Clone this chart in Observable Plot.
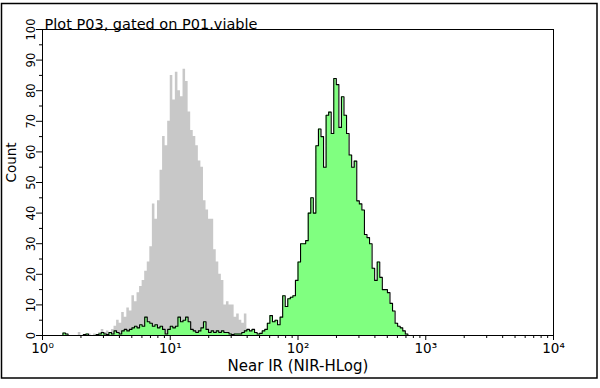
<!DOCTYPE html>
<html>
<head>
<meta charset="utf-8">
<script src="https://cdn.jsdelivr.net/npm/d3@7"></script>
<script src="https://cdn.jsdelivr.net/npm/@observablehq/plot@0.6"></script>
<style>
  html, body { margin: 0; padding: 0; background: #fff; }
  #chart { width: 600px; height: 388px; }
</style>
</head>
<body>
<div id="chart"></div>
<script>
// ---- data ----
const title = "Plot P03, gated on P01.viable";
const xLabel = "Near IR (NIR-HLog)";
const yLabel = "Count";
const binWidth = 0.02; // decades per channel
// grey (unstained) histogram, counts per channel starting at channel greyStart
const greyStart = 13;
const greyCounts = [0,1,0,0,0,0.5,0,0.5,0,1,2,1,1.5,1,2,3,5,4,7.5,6,9,8,13,11,14,16,18,21,24,29,43,38,44,54,65,62,70,85,77,86,80,78,87,83,73,67,65,62,57,55,44,41,38,38,28,24,20,18,10,11,10,10,6,7,5,4,7,2,1,1.5,0.5,0];
// green (stained) histogram, counts per channel starting at channel greenStart
const greenStart = 7;
const greenCounts = [0,0.8,0.5,0,0,0,0,0,0,0.3,0.5,0,0,0,0.3,0.5,1,0.5,0.3,1,0.5,1.5,1,0.5,1.5,2,1.5,2,2.5,3,2.5,3.5,3,6,4.5,4,3,3.5,2.5,3,2,0.5,2,3,2.5,3,6,4.5,5,6,4.5,2,1.5,1,1.5,2.5,4.5,2,1,1.5,1,1.5,1,1.5,1,1,0.5,0.3,0.5,0.5,0.5,1,1.5,2,1.5,2,1,0.5,0.7,1.5,2,4,6.5,4.5,5,3.5,6,13,9.5,12,12.5,13,18,24,30,30,31,40,45,40,62,67.5,65,55,72,73,66,84,82,68,78,72,66,59,55,57,44,43,41,33,32,30,22,18,24,19,15,15,14,10.5,8,4,3,2.5,1.5,0.5,0];
const xMajor = [1, 10, 100, 1000, 10000];
const xMajorLabels = ["10⁰", "10¹", "10²", "10³", "10⁴"];
const yMajor = [0,10,20,30,40,50,60,70,80,90,100];
const yMinor = [5,15,25,35,45,55,65,75,85,95];

// ---- build step series ----
function steps(start, counts) {
  const pts = [{x: Math.pow(10, start * binWidth), y: 0}];
  counts.forEach((c, k) => pts.push({x: Math.pow(10, (start + k) * binWidth), y: c}));
  pts.push({x: Math.pow(10, (start + counts.length) * binWidth), y: 0});
  return pts;
}
const grey = steps(greyStart, greyCounts);
const green = steps(greenStart, greenCounts);
const xMinor = [];
for (let d = 1; d < 10000; d *= 10) for (let m = 2; m <= 9; m++) xMinor.push(d * m);

const chart = Plot.plot({
  width: 600,
  height: 388,
  marginLeft: 42,
  marginRight: 47,
  marginTop: 29,
  marginBottom: 53,
  style: {fontFamily: "DejaVu Sans", fontSize: "11px", color: "#000", background: "#fff"},
  x: {type: "log", domain: [1, 10000]},
  y: {domain: [0, 100]},
  marks: [
    Plot.areaY(grey, {x: "x", y: "y", curve: "step-after", fill: "#c8c8c8"}),
    Plot.areaY(green, {x: "x", y: "y", curve: "step-after", fill: "#80ff80"}),
    Plot.line(green, {x: "x", y: "y", curve: "step-after", stroke: "#000", strokeWidth: 1.1}),
    Plot.frame({stroke: "#000"}),
    Plot.axisY(yMinor, {tickSize: 3, tickFormat: () => "", label: null}),
    Plot.axisY(yMajor, {tickSize: 6, tickPadding: 2, tickRotate: -90, fontSize: 11.5, label: null}),
    Plot.text([yLabel], {frameAnchor: "left", dx: -31, rotate: -90, text: d => d, fontSize: 13.5}),
    Plot.axisX(xMinor, {tickSize: 3, tickFormat: () => "", label: null}),
    Plot.axisX(xMajor, {tickSize: 5, tickPadding: 3, tickFormat: d => xMajorLabels[xMajor.indexOf(d)], fontSize: 13.5, label: null}),
    Plot.text([xLabel], {frameAnchor: "bottom", dy: 35, text: d => d, fontSize: 15}),
    Plot.text([title], {frameAnchor: "top-left", dx: 2, dy: -11, text: d => d, fontSize: 14.5, textAnchor: "start"})
  ]
});
document.getElementById("chart").appendChild(chart);
d3.select(chart).append("rect")
  .attr("x", 1.5).attr("y", 3.5).attr("width", 595.5).attr("height", 374.5)
  .attr("fill", "none").attr("stroke", "#000").attr("stroke-width", 1.5);
</script>
</body>
</html>
